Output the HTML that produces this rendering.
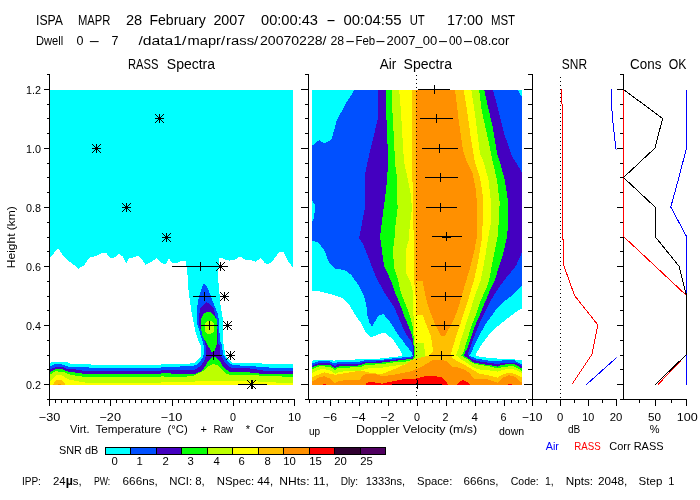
<!DOCTYPE html>
<html><head><meta charset="utf-8"><title>ISPA MAPR RASS</title>
<style>
html,body{margin:0;padding:0;background:#fff;width:700px;height:500px;overflow:hidden}
svg{display:block}
text{font-family:"Liberation Sans",sans-serif;}
</style></head><body>
<svg width="700" height="500" viewBox="0 0 700 500">
<rect x="0" y="0" width="700" height="500" fill="#fff"/>
<text x="36" y="25" font-size="14" textLength="27" lengthAdjust="spacingAndGlyphs">ISPA</text>
<text x="78" y="25" font-size="14" textLength="32.5" lengthAdjust="spacingAndGlyphs">MAPR</text>
<text x="126" y="25" font-size="14" textLength="16.2" lengthAdjust="spacingAndGlyphs">28</text>
<text x="149.4" y="25" font-size="14" textLength="56.4" lengthAdjust="spacingAndGlyphs">February</text>
<text x="213.4" y="25" font-size="14" textLength="31.9" lengthAdjust="spacingAndGlyphs">2007</text>
<text x="261" y="25" font-size="14" textLength="57" lengthAdjust="spacingAndGlyphs">00:00:43</text>
<text x="326.23" y="25" font-size="14" textLength="9.55" lengthAdjust="spacingAndGlyphs">-</text>
<text x="343.4" y="25" font-size="14" textLength="58.1" lengthAdjust="spacingAndGlyphs">00:04:55</text>
<text x="409.7" y="25" font-size="14" textLength="15.1" lengthAdjust="spacingAndGlyphs">UT</text>
<text x="447" y="25" font-size="14" textLength="36" lengthAdjust="spacingAndGlyphs">17:00</text>
<text x="490.9" y="25" font-size="14" textLength="24.1" lengthAdjust="spacingAndGlyphs">MST</text>
<text x="36" y="45" font-size="12.5" textLength="27.2" lengthAdjust="spacingAndGlyphs">Dwell</text>
<text x="80.1" y="45" font-size="12.5" text-anchor="middle">0</text>
<text x="88.4" y="45" font-size="12.5" textLength="12.01" lengthAdjust="spacingAndGlyphs">-</text>
<text x="115.0" y="45" font-size="12.5" text-anchor="middle">7</text>
<text x="138.4" y="45" font-size="12.5" textLength="48.1" lengthAdjust="spacingAndGlyphs">/data1/</text>
<text x="187.5" y="45" font-size="12.5" textLength="37.5" lengthAdjust="spacingAndGlyphs">mapr/</text>
<text x="226" y="45" font-size="12.5" textLength="32.2" lengthAdjust="spacingAndGlyphs">rass/</text>
<text x="260" y="45" font-size="12.5" textLength="66.5" lengthAdjust="spacingAndGlyphs">20070228/</text>
<text x="330.5" y="45" font-size="12.5" textLength="13.7" lengthAdjust="spacingAndGlyphs">28</text>
<text x="345.14" y="45" font-size="12.5" textLength="10.23" lengthAdjust="spacingAndGlyphs">-</text>
<text x="355.5" y="45" font-size="12.5" textLength="19.7" lengthAdjust="spacingAndGlyphs">Feb</text>
<text x="375.05" y="45" font-size="12.5" textLength="10.91" lengthAdjust="spacingAndGlyphs">-</text>
<text x="386.5" y="45" font-size="12.5" textLength="50.7" lengthAdjust="spacingAndGlyphs">2007_00</text>
<text x="437.55" y="45" font-size="12.5" textLength="10.91" lengthAdjust="spacingAndGlyphs">-</text>
<text x="449" y="45" font-size="12.5" textLength="13.2" lengthAdjust="spacingAndGlyphs">00</text>
<text x="462.55" y="45" font-size="12.5" textLength="10.91" lengthAdjust="spacingAndGlyphs">-</text>
<text x="473.4" y="45" font-size="12.5" textLength="35.9" lengthAdjust="spacingAndGlyphs">08.cor</text>
<text x="128" y="69" font-size="14" textLength="30.4" lengthAdjust="spacingAndGlyphs">RASS</text>
<text x="166.8" y="69" font-size="14" textLength="48.2" lengthAdjust="spacingAndGlyphs">Spectra</text>
<text x="379.8" y="69" font-size="14" textLength="16.5" lengthAdjust="spacingAndGlyphs">Air</text>
<text x="403.6" y="69" font-size="14" textLength="48.4" lengthAdjust="spacingAndGlyphs">Spectra</text>
<text x="561.8" y="69" font-size="14" textLength="25.2" lengthAdjust="spacingAndGlyphs">SNR</text>
<text x="630.1" y="69" font-size="14" textLength="31.3" lengthAdjust="spacingAndGlyphs">Cons</text>
<text x="668.8" y="69" font-size="14" textLength="17.7" lengthAdjust="spacingAndGlyphs">OK</text>
<rect x="49" y="74" width="1" height="326" fill="#000"/>
<rect x="47" y="74" width="2" height="1" fill="#000"/>
<rect x="44" y="89" width="5" height="1" fill="#000"/>
<rect x="47" y="104" width="2" height="1" fill="#000"/>
<rect x="47" y="118" width="2" height="1" fill="#000"/>
<rect x="47" y="133" width="2" height="1" fill="#000"/>
<rect x="44" y="148" width="5" height="1" fill="#000"/>
<rect x="47" y="163" width="2" height="1" fill="#000"/>
<rect x="47" y="177" width="2" height="1" fill="#000"/>
<rect x="47" y="192" width="2" height="1" fill="#000"/>
<rect x="44" y="207" width="5" height="1" fill="#000"/>
<rect x="47" y="222" width="2" height="1" fill="#000"/>
<rect x="47" y="237" width="2" height="1" fill="#000"/>
<rect x="47" y="251" width="2" height="1" fill="#000"/>
<rect x="44" y="266" width="5" height="1" fill="#000"/>
<rect x="47" y="281" width="2" height="1" fill="#000"/>
<rect x="47" y="296" width="2" height="1" fill="#000"/>
<rect x="47" y="310" width="2" height="1" fill="#000"/>
<rect x="44" y="325" width="5" height="1" fill="#000"/>
<rect x="47" y="340" width="2" height="1" fill="#000"/>
<rect x="47" y="355" width="2" height="1" fill="#000"/>
<rect x="47" y="369" width="2" height="1" fill="#000"/>
<rect x="44" y="384" width="5" height="1" fill="#000"/>
<rect x="47" y="399" width="2" height="1" fill="#000"/>
<rect x="308" y="74" width="1" height="326" fill="#000"/>
<rect x="305" y="74" width="3" height="1" fill="#000"/>
<rect x="301" y="89" width="7" height="1" fill="#000"/>
<rect x="305" y="104" width="3" height="1" fill="#000"/>
<rect x="305" y="118" width="3" height="1" fill="#000"/>
<rect x="305" y="133" width="3" height="1" fill="#000"/>
<rect x="301" y="148" width="7" height="1" fill="#000"/>
<rect x="305" y="163" width="3" height="1" fill="#000"/>
<rect x="305" y="177" width="3" height="1" fill="#000"/>
<rect x="305" y="192" width="3" height="1" fill="#000"/>
<rect x="301" y="207" width="7" height="1" fill="#000"/>
<rect x="305" y="222" width="3" height="1" fill="#000"/>
<rect x="305" y="237" width="3" height="1" fill="#000"/>
<rect x="305" y="251" width="3" height="1" fill="#000"/>
<rect x="301" y="266" width="7" height="1" fill="#000"/>
<rect x="305" y="281" width="3" height="1" fill="#000"/>
<rect x="305" y="296" width="3" height="1" fill="#000"/>
<rect x="305" y="310" width="3" height="1" fill="#000"/>
<rect x="301" y="325" width="7" height="1" fill="#000"/>
<rect x="305" y="340" width="3" height="1" fill="#000"/>
<rect x="305" y="355" width="3" height="1" fill="#000"/>
<rect x="305" y="369" width="3" height="1" fill="#000"/>
<rect x="301" y="384" width="7" height="1" fill="#000"/>
<rect x="305" y="399" width="3" height="1" fill="#000"/>
<rect x="532" y="74" width="1" height="326" fill="#000"/>
<rect x="528" y="74" width="4" height="1" fill="#000"/>
<rect x="524" y="89" width="8" height="1" fill="#000"/>
<rect x="528" y="104" width="4" height="1" fill="#000"/>
<rect x="528" y="118" width="4" height="1" fill="#000"/>
<rect x="528" y="133" width="4" height="1" fill="#000"/>
<rect x="524" y="148" width="8" height="1" fill="#000"/>
<rect x="528" y="163" width="4" height="1" fill="#000"/>
<rect x="528" y="177" width="4" height="1" fill="#000"/>
<rect x="528" y="192" width="4" height="1" fill="#000"/>
<rect x="524" y="207" width="8" height="1" fill="#000"/>
<rect x="528" y="222" width="4" height="1" fill="#000"/>
<rect x="528" y="237" width="4" height="1" fill="#000"/>
<rect x="528" y="251" width="4" height="1" fill="#000"/>
<rect x="524" y="266" width="8" height="1" fill="#000"/>
<rect x="528" y="281" width="4" height="1" fill="#000"/>
<rect x="528" y="296" width="4" height="1" fill="#000"/>
<rect x="528" y="310" width="4" height="1" fill="#000"/>
<rect x="524" y="325" width="8" height="1" fill="#000"/>
<rect x="528" y="340" width="4" height="1" fill="#000"/>
<rect x="528" y="355" width="4" height="1" fill="#000"/>
<rect x="528" y="369" width="4" height="1" fill="#000"/>
<rect x="524" y="384" width="8" height="1" fill="#000"/>
<rect x="528" y="399" width="4" height="1" fill="#000"/>
<rect x="623" y="74" width="1" height="326" fill="#000"/>
<rect x="620" y="74" width="3" height="1" fill="#000"/>
<rect x="617" y="89" width="6" height="1" fill="#000"/>
<rect x="620" y="104" width="3" height="1" fill="#000"/>
<rect x="620" y="118" width="3" height="1" fill="#000"/>
<rect x="620" y="133" width="3" height="1" fill="#000"/>
<rect x="617" y="148" width="6" height="1" fill="#000"/>
<rect x="620" y="163" width="3" height="1" fill="#000"/>
<rect x="620" y="177" width="3" height="1" fill="#000"/>
<rect x="620" y="192" width="3" height="1" fill="#000"/>
<rect x="617" y="207" width="6" height="1" fill="#000"/>
<rect x="620" y="222" width="3" height="1" fill="#000"/>
<rect x="620" y="237" width="3" height="1" fill="#000"/>
<rect x="620" y="251" width="3" height="1" fill="#000"/>
<rect x="617" y="266" width="6" height="1" fill="#000"/>
<rect x="620" y="281" width="3" height="1" fill="#000"/>
<rect x="620" y="296" width="3" height="1" fill="#000"/>
<rect x="620" y="310" width="3" height="1" fill="#000"/>
<rect x="617" y="325" width="6" height="1" fill="#000"/>
<rect x="620" y="340" width="3" height="1" fill="#000"/>
<rect x="620" y="355" width="3" height="1" fill="#000"/>
<rect x="620" y="369" width="3" height="1" fill="#000"/>
<rect x="617" y="384" width="6" height="1" fill="#000"/>
<rect x="620" y="399" width="3" height="1" fill="#000"/>
<rect x="49" y="399" width="246" height="1" fill="#000"/>
<rect x="49" y="400" width="1" height="6" fill="#000"/>
<rect x="55" y="400" width="1" height="3" fill="#000"/>
<rect x="61" y="400" width="1" height="3" fill="#000"/>
<rect x="67" y="400" width="1" height="3" fill="#000"/>
<rect x="74" y="400" width="1" height="3" fill="#000"/>
<rect x="80" y="400" width="1" height="3" fill="#000"/>
<rect x="86" y="400" width="1" height="3" fill="#000"/>
<rect x="92" y="400" width="1" height="3" fill="#000"/>
<rect x="98" y="400" width="1" height="3" fill="#000"/>
<rect x="104" y="400" width="1" height="3" fill="#000"/>
<rect x="110" y="400" width="1" height="6" fill="#000"/>
<rect x="116" y="400" width="1" height="3" fill="#000"/>
<rect x="122" y="400" width="1" height="3" fill="#000"/>
<rect x="129" y="400" width="1" height="3" fill="#000"/>
<rect x="135" y="400" width="1" height="3" fill="#000"/>
<rect x="141" y="400" width="1" height="3" fill="#000"/>
<rect x="147" y="400" width="1" height="3" fill="#000"/>
<rect x="153" y="400" width="1" height="3" fill="#000"/>
<rect x="159" y="400" width="1" height="3" fill="#000"/>
<rect x="165" y="400" width="1" height="3" fill="#000"/>
<rect x="172" y="400" width="1" height="6" fill="#000"/>
<rect x="178" y="400" width="1" height="3" fill="#000"/>
<rect x="184" y="400" width="1" height="3" fill="#000"/>
<rect x="190" y="400" width="1" height="3" fill="#000"/>
<rect x="196" y="400" width="1" height="3" fill="#000"/>
<rect x="202" y="400" width="1" height="3" fill="#000"/>
<rect x="208" y="400" width="1" height="3" fill="#000"/>
<rect x="214" y="400" width="1" height="3" fill="#000"/>
<rect x="220" y="400" width="1" height="3" fill="#000"/>
<rect x="227" y="400" width="1" height="3" fill="#000"/>
<rect x="233" y="400" width="1" height="6" fill="#000"/>
<rect x="239" y="400" width="1" height="3" fill="#000"/>
<rect x="245" y="400" width="1" height="3" fill="#000"/>
<rect x="251" y="400" width="1" height="3" fill="#000"/>
<rect x="257" y="400" width="1" height="3" fill="#000"/>
<rect x="263" y="400" width="1" height="3" fill="#000"/>
<rect x="270" y="400" width="1" height="3" fill="#000"/>
<rect x="276" y="400" width="1" height="3" fill="#000"/>
<rect x="282" y="400" width="1" height="3" fill="#000"/>
<rect x="288" y="400" width="1" height="3" fill="#000"/>
<rect x="294" y="400" width="1" height="6" fill="#000"/>
<rect x="308" y="399" width="218" height="1" fill="#000"/>
<rect x="309" y="400" width="1" height="3" fill="#000"/>
<rect x="316" y="400" width="1" height="3" fill="#000"/>
<rect x="323" y="400" width="1" height="3" fill="#000"/>
<rect x="330" y="400" width="1" height="6" fill="#000"/>
<rect x="338" y="400" width="1" height="3" fill="#000"/>
<rect x="345" y="400" width="1" height="3" fill="#000"/>
<rect x="352" y="400" width="1" height="3" fill="#000"/>
<rect x="359" y="400" width="1" height="6" fill="#000"/>
<rect x="367" y="400" width="1" height="3" fill="#000"/>
<rect x="374" y="400" width="1" height="3" fill="#000"/>
<rect x="381" y="400" width="1" height="3" fill="#000"/>
<rect x="388" y="400" width="1" height="6" fill="#000"/>
<rect x="396" y="400" width="1" height="3" fill="#000"/>
<rect x="403" y="400" width="1" height="3" fill="#000"/>
<rect x="410" y="400" width="1" height="3" fill="#000"/>
<rect x="417" y="400" width="1" height="6" fill="#000"/>
<rect x="424" y="400" width="1" height="3" fill="#000"/>
<rect x="432" y="400" width="1" height="3" fill="#000"/>
<rect x="439" y="400" width="1" height="3" fill="#000"/>
<rect x="446" y="400" width="1" height="6" fill="#000"/>
<rect x="453" y="400" width="1" height="3" fill="#000"/>
<rect x="461" y="400" width="1" height="3" fill="#000"/>
<rect x="468" y="400" width="1" height="3" fill="#000"/>
<rect x="475" y="400" width="1" height="6" fill="#000"/>
<rect x="482" y="400" width="1" height="3" fill="#000"/>
<rect x="489" y="400" width="1" height="3" fill="#000"/>
<rect x="497" y="400" width="1" height="3" fill="#000"/>
<rect x="504" y="400" width="1" height="6" fill="#000"/>
<rect x="511" y="400" width="1" height="3" fill="#000"/>
<rect x="518" y="400" width="1" height="3" fill="#000"/>
<rect x="526" y="400" width="1" height="3" fill="#000"/>
<rect x="532" y="399" width="85" height="1" fill="#000"/>
<rect x="532" y="400" width="1" height="6" fill="#000"/>
<rect x="546" y="400" width="1" height="3" fill="#000"/>
<rect x="560" y="400" width="1" height="6" fill="#000"/>
<rect x="574" y="400" width="1" height="3" fill="#000"/>
<rect x="588" y="400" width="1" height="6" fill="#000"/>
<rect x="602" y="400" width="1" height="3" fill="#000"/>
<rect x="616" y="400" width="1" height="6" fill="#000"/>
<rect x="623" y="399" width="64" height="1" fill="#000"/>
<rect x="639" y="400" width="1" height="3" fill="#000"/>
<rect x="655" y="400" width="1" height="6" fill="#000"/>
<rect x="671" y="400" width="1" height="3" fill="#000"/>
<rect x="686" y="400" width="1" height="6" fill="#000"/>
<text x="41" y="94" font-size="11" textLength="15" lengthAdjust="spacingAndGlyphs" text-anchor="end">1.2</text>
<text x="41" y="153" font-size="11" textLength="15" lengthAdjust="spacingAndGlyphs" text-anchor="end">1.0</text>
<text x="41" y="212" font-size="11" textLength="15" lengthAdjust="spacingAndGlyphs" text-anchor="end">0.8</text>
<text x="41" y="271" font-size="11" textLength="15" lengthAdjust="spacingAndGlyphs" text-anchor="end">0.6</text>
<text x="41" y="330" font-size="11" textLength="15" lengthAdjust="spacingAndGlyphs" text-anchor="end">0.4</text>
<text x="41" y="389" font-size="11" textLength="15" lengthAdjust="spacingAndGlyphs" text-anchor="end">0.2</text>
<text x="0" y="0" font-size="11" transform="translate(14.7,237.2) rotate(-90)" text-anchor="middle" textLength="62" lengthAdjust="spacingAndGlyphs">Height (km)</text>
<text x="49.5" y="421" font-size="11" textLength="21.5" lengthAdjust="spacingAndGlyphs" text-anchor="middle">−30</text>
<text x="110.2" y="421" font-size="11" textLength="21.5" lengthAdjust="spacingAndGlyphs" text-anchor="middle">−20</text>
<text x="171.5" y="421" font-size="11" textLength="21.5" lengthAdjust="spacingAndGlyphs" text-anchor="middle">−10</text>
<text x="233" y="421" font-size="11" textLength="6" lengthAdjust="spacingAndGlyphs" text-anchor="middle">0</text>
<text x="294.5" y="421" font-size="11" textLength="13" lengthAdjust="spacingAndGlyphs" text-anchor="middle">10</text>
<text x="330" y="421" font-size="11" textLength="14" lengthAdjust="spacingAndGlyphs" text-anchor="middle">−6</text>
<text x="358.6" y="421" font-size="11" textLength="14" lengthAdjust="spacingAndGlyphs" text-anchor="middle">−4</text>
<text x="387.6" y="421" font-size="11" textLength="14" lengthAdjust="spacingAndGlyphs" text-anchor="middle">−2</text>
<text x="417" y="421" font-size="11" textLength="6" lengthAdjust="spacingAndGlyphs" text-anchor="middle">0</text>
<text x="445.5" y="421" font-size="11" textLength="6" lengthAdjust="spacingAndGlyphs" text-anchor="middle">2</text>
<text x="474.8" y="421" font-size="11" textLength="6.4" lengthAdjust="spacingAndGlyphs" text-anchor="middle">4</text>
<text x="503.5" y="421" font-size="11" textLength="6" lengthAdjust="spacingAndGlyphs" text-anchor="middle">6</text>
<text x="532.2" y="421" font-size="11" textLength="20.4" lengthAdjust="spacingAndGlyphs" text-anchor="middle">−10</text>
<text x="560.2" y="421" font-size="11" textLength="6.3" lengthAdjust="spacingAndGlyphs" text-anchor="middle">0</text>
<text x="588.2" y="421" font-size="11" textLength="12" lengthAdjust="spacingAndGlyphs" text-anchor="middle">10</text>
<text x="616" y="421" font-size="11" textLength="12.6" lengthAdjust="spacingAndGlyphs" text-anchor="middle">20</text>
<text x="654.5" y="421" font-size="11" textLength="13" lengthAdjust="spacingAndGlyphs" text-anchor="middle">50</text>
<text x="687.2" y="421" font-size="11" textLength="21" lengthAdjust="spacingAndGlyphs" text-anchor="middle">100</text>
<text x="70.1" y="433" font-size="11" textLength="19.4" lengthAdjust="spacingAndGlyphs">Virt.</text>
<text x="95.5" y="433" font-size="11" textLength="65.7" lengthAdjust="spacingAndGlyphs">Temperature</text>
<text x="167.6" y="433" font-size="11" textLength="20.2" lengthAdjust="spacingAndGlyphs">(°C)</text>
<text x="203.7" y="433" font-size="11" text-anchor="middle">+</text>
<text x="213.6" y="433" font-size="11" textLength="19.6" lengthAdjust="spacingAndGlyphs">Raw</text>
<text x="248.0" y="433" font-size="11" text-anchor="middle">*</text>
<text x="255.6" y="433" font-size="11" textLength="18.6" lengthAdjust="spacingAndGlyphs">Cor</text>
<text x="356" y="433" font-size="11" textLength="121.2" lengthAdjust="spacingAndGlyphs">Doppler Velocity (m/s)</text>
<text x="567.9" y="433" font-size="11" textLength="12.3" lengthAdjust="spacingAndGlyphs">dB</text>
<text x="654.75" y="433" font-size="11" text-anchor="middle">%</text>
<text x="309" y="435" font-size="11" textLength="11.2" lengthAdjust="spacingAndGlyphs">up</text>
<text x="499" y="435" font-size="11" textLength="25.2" lengthAdjust="spacingAndGlyphs">down</text>
<text x="545.7" y="450" font-size="11" textLength="13.2" lengthAdjust="spacingAndGlyphs" fill="#0000FF">Air</text>
<text x="574.3" y="450" font-size="11" textLength="26.5" lengthAdjust="spacingAndGlyphs" fill="#FF0000">RASS</text>
<text x="609.3" y="450" font-size="11" textLength="54.3" lengthAdjust="spacingAndGlyphs">Corr RASS</text>
<text x="59" y="454" font-size="11" textLength="39.2" lengthAdjust="spacingAndGlyphs">SNR dB</text>
<rect x="105" y="447" width="281" height="8" fill="#000"/>
<rect x="106" y="448" width="24" height="6" fill="#00FFFF"/>
<text x="117.8" y="465" font-size="11" textLength="6.3" lengthAdjust="spacingAndGlyphs" text-anchor="end">0</text>
<rect x="131" y="448" width="25" height="6" fill="#0050FF"/>
<text x="142.8" y="465" font-size="11" textLength="6.3" lengthAdjust="spacingAndGlyphs" text-anchor="end">1</text>
<rect x="157" y="448" width="24" height="6" fill="#4400C0"/>
<text x="168.8" y="465" font-size="11" textLength="6.3" lengthAdjust="spacingAndGlyphs" text-anchor="end">2</text>
<rect x="182" y="448" width="25" height="6" fill="#08FF08"/>
<text x="193.8" y="465" font-size="11" textLength="6.3" lengthAdjust="spacingAndGlyphs" text-anchor="end">3</text>
<rect x="208" y="448" width="24" height="6" fill="#BCFF00"/>
<text x="219.8" y="465" font-size="11" textLength="6.3" lengthAdjust="spacingAndGlyphs" text-anchor="end">4</text>
<rect x="233" y="448" width="25" height="6" fill="#FFFF00"/>
<text x="244.8" y="465" font-size="11" textLength="6.3" lengthAdjust="spacingAndGlyphs" text-anchor="end">6</text>
<rect x="259" y="448" width="24" height="6" fill="#FFC000"/>
<text x="270.8" y="465" font-size="11" textLength="6.3" lengthAdjust="spacingAndGlyphs" text-anchor="end">8</text>
<rect x="284" y="448" width="25" height="6" fill="#FF9000"/>
<text x="295.8" y="465" font-size="11" textLength="12.6" lengthAdjust="spacingAndGlyphs" text-anchor="end">10</text>
<rect x="310" y="448" width="24" height="6" fill="#FF0000"/>
<text x="321.8" y="465" font-size="11" textLength="12.6" lengthAdjust="spacingAndGlyphs" text-anchor="end">15</text>
<rect x="335" y="448" width="25" height="6" fill="#300030"/>
<text x="346.8" y="465" font-size="11" textLength="12.6" lengthAdjust="spacingAndGlyphs" text-anchor="end">20</text>
<rect x="361" y="448" width="24" height="6" fill="#500060"/>
<text x="372.8" y="465" font-size="11" textLength="12.6" lengthAdjust="spacingAndGlyphs" text-anchor="end">25</text>
<text x="53" y="485" font-size="11" textLength="28.7" lengthAdjust="spacingAndGlyphs">24<tspan font-weight="bold" font-size="12">µ</tspan>s,</text>
<text x="21.9" y="485" font-size="11" textLength="19.0" lengthAdjust="spacingAndGlyphs">IPP:</text>
<text x="93.9" y="485" font-size="11" textLength="16.3" lengthAdjust="spacingAndGlyphs">PW:</text>
<text x="122.6" y="485" font-size="11" textLength="35.2" lengthAdjust="spacingAndGlyphs">666ns,</text>
<text x="169.3" y="485" font-size="11" textLength="35.5" lengthAdjust="spacingAndGlyphs">NCI: 8,</text>
<text x="216.8" y="485" font-size="11" textLength="56.3" lengthAdjust="spacingAndGlyphs">NSpec: 44,</text>
<text x="279.3" y="485" font-size="11" textLength="49.5" lengthAdjust="spacingAndGlyphs">NHts: 11,</text>
<text x="340.7" y="485" font-size="11" textLength="17.4" lengthAdjust="spacingAndGlyphs">Dly:</text>
<text x="365.7" y="485" font-size="11" textLength="39.5" lengthAdjust="spacingAndGlyphs">1333ns,</text>
<text x="417.1" y="485" font-size="11" textLength="35.2" lengthAdjust="spacingAndGlyphs">Space:</text>
<text x="463.6" y="485" font-size="11" textLength="34.9" lengthAdjust="spacingAndGlyphs">666ns,</text>
<text x="510.7" y="485" font-size="11" textLength="28.1" lengthAdjust="spacingAndGlyphs">Code:</text>
<text x="545" y="485" font-size="11" textLength="8.8" lengthAdjust="spacingAndGlyphs">1,</text>
<text x="565.7" y="485" font-size="11" textLength="27.4" lengthAdjust="spacingAndGlyphs">Npts:</text>
<text x="597.9" y="485" font-size="11" textLength="29.4" lengthAdjust="spacingAndGlyphs">2048,</text>
<text x="638.6" y="485" font-size="11" textLength="23.7" lengthAdjust="spacingAndGlyphs">Step</text>
<text x="671.2" y="485" font-size="11" text-anchor="middle">1</text>
<g shape-rendering="crispEdges">
<polygon points="50.0,90.0 293.0,90.0 293.0,268.0 288.5,261.6 283.8,252.3 279.2,252.3 272.7,260.6 268.1,264.7 264.3,262.5 260.6,257.5 256.0,261.9 250.4,260.0 244.9,259.7 240.2,256.4 234.6,259.7 229.0,260.6 226.3,260.0 221.6,257.5 218.9,257.9 218.2,279.0 220.6,306.0 223.0,320.0 223.0,344.0 224.0,345.0 225.0,354.0 228.0,359.0 232.0,362.5 233.7,362.7 233.7,362.7 256.6,363.3 272.6,363.9 279.4,364.2 293.0,364.2 293.0,385.0 50.0,385.0 50.0,362.7 54.1,361.9 66.7,362.1 70.7,363.9 90.7,364.4 91.9,365.0 161.0,365.0 161.0,364.2 180.0,364.0 180.0,364.0 190.0,363.5 195.0,362.5 200.5,357.0 201.5,353.0 200.6,345.6 198.0,340.0 195.5,332.0 193.5,322.0 192.0,315.0 190.0,302.0 188.5,290.0 187.5,275.0 186.0,261.2 185.8,261.2 180.8,261.2 176.1,263.4 172.1,263.4 169.1,258.2 165.3,264.7 162.0,263.0 156.8,258.2 150.8,262.0 145.3,264.7 141.6,258.8 137.9,256.0 133.2,257.5 129.5,257.5 126.3,263.0 123.0,256.9 118.9,253.2 114.1,257.9 110.4,257.9 106.3,253.2 101.6,253.2 94.2,256.6 89.6,257.5 84.0,265.3 78.4,268.6 71.9,263.4 66.4,259.3 62.6,254.7 58.0,248.0 50.0,257.9" fill="#00FFFF"/>
<polygon points="205.5,285.0 207.8,288.0 213.4,303.2 217.4,312.8 219.0,320.0 219.3,327.2 219.8,340.0 222.0,345.0 223.0,354.0 227.0,360.0 230.0,363.5 233.0,365.0 233.0,365.0 248.6,366.1 260.0,366.7 272.6,367.9 293.0,367.9 293.0,385.0 50.0,385.0 50.0,366.1 55.3,364.2 62.1,364.4 66.1,366.1 70.7,367.3 125.0,367.9 161.0,367.9 161.0,367.0 180.0,366.5 180.0,366.5 192.0,366.0 198.0,364.0 203.0,357.5 204.0,353.0 203.8,345.6 199.0,329.6 197.4,325.0 196.8,320.0 196.6,312.8 197.5,305.0 199.0,296.8 201.0,290.0 203.5,284.0" fill="#0050FF"/>
<polygon points="209.5,303.5 213.4,308.0 216.9,320.8 217.9,333.6 217.9,344.0 220.0,345.0 220.5,355.0 224.0,361.0 228.0,366.0 232.0,368.0 250.0,368.5 264.6,370.7 293.0,371.3 293.0,385.0 50.0,385.0 50.0,369.0 55.3,367.3 63.9,367.3 66.7,369.0 78.1,369.6 86.1,371.3 161.0,371.0 161.0,370.1 180.0,370.5 180.0,370.5 195.0,369.5 201.0,366.0 205.0,359.0 206.5,354.0 205.5,345.0 202.2,332.8 199.8,328.0 198.8,320.8 199.0,315.0 200.6,308.0 203.0,305.0 206.2,302.4" fill="#4400C0"/>
<polygon points="207.0,311.5 210.5,312.0 213.4,315.0 216.9,319.5 217.2,325.6 216.8,336.8 216.5,345.0 214.5,351.0 213.0,352.6 211.5,351.5 207.5,345.0 202.5,336.0 200.7,327.2 200.7,320.0 201.9,317.0 203.0,314.5" fill="#08FF08"/>
<polygon points="214.0,356.5 217.0,358.0 221.0,363.0 224.0,368.0 229.0,371.0 229.1,371.9 248.6,372.4 264.6,374.1 293.0,374.1 293.0,385.0 50.0,385.0 50.0,372.4 55.3,369.0 63.9,369.6 66.7,371.3 78.1,373.0 86.1,374.1 161.0,373.9 161.0,373.0 180.0,374.0 180.0,374.0 196.0,373.5 202.0,371.0 206.0,365.0 209.0,360.0 213.0,356.5" fill="#08FF08"/>
<polygon points="207.5,321.0 211.0,321.0 213.8,323.5 214.3,328.0 213.5,332.0 210.5,334.0 207.0,334.0 205.0,332.0 204.6,327.0 205.5,323.0" fill="#BCFF00"/>
<polygon points="50.0,374.7 55.3,371.3 63.9,371.9 70.1,374.7 78.1,375.9 86.1,377.0 161.0,377.0 161.0,376.4 180.0,377.0 193.0,376.0 203.0,371.0 209.0,366.0 213.0,364.0 217.0,365.0 222.0,370.0 227.0,374.0 229.1,374.7 240.0,375.0 254.3,375.3 293.0,377.0 293.0,385.0 50.0,385.0" fill="#BCFF00"/>
<polygon points="50.0,381.6 53.0,378.0 56.4,375.3 62.1,375.3 67.9,379.3 79.3,381.6 86.1,382.7 109.0,383.3 161.0,383.3 161.0,381.8 180.0,382.0 195.0,381.5 205.0,381.0 240.0,380.5 250.0,381.0 268.0,382.1 292.8,383.3 293.0,383.3 293.0,385.0 50.0,385.0" fill="#FFFF00"/>
<polygon points="53.0,385.0 54.5,382.5 56.4,380.4 62.1,380.4 64.0,382.5 65.6,385.0" fill="#FFC000"/>
<polygon points="57.5,385.0 58.5,384.0 60.5,384.0 61.0,385.0" fill="#FF9000"/>
</g>
<path d="M155,118h9v1h-9zM159,114h1v9h-1zM158,117h3v3h-3zM157,116h1v1h-1zM157,120h1v1h-1zM161,116h1v1h-1zM161,120h1v1h-1zM156,115h1v1h-1zM156,121h1v1h-1zM162,115h1v1h-1zM162,121h1v1h-1zM155,114h1v1h-1zM155,122h1v1h-1zM163,114h1v1h-1zM163,122h1v1h-1z" fill="#000" shape-rendering="crispEdges"/>
<path d="M92,148h9v1h-9zM96,144h1v9h-1zM95,147h3v3h-3zM94,146h1v1h-1zM94,150h1v1h-1zM98,146h1v1h-1zM98,150h1v1h-1zM93,145h1v1h-1zM93,151h1v1h-1zM99,145h1v1h-1zM99,151h1v1h-1zM92,144h1v1h-1zM92,152h1v1h-1zM100,144h1v1h-1zM100,152h1v1h-1z" fill="#000" shape-rendering="crispEdges"/>
<path d="M122,207h9v1h-9zM126,203h1v9h-1zM125,206h3v3h-3zM124,205h1v1h-1zM124,209h1v1h-1zM128,205h1v1h-1zM128,209h1v1h-1zM123,204h1v1h-1zM123,210h1v1h-1zM129,204h1v1h-1zM129,210h1v1h-1zM122,203h1v1h-1zM122,211h1v1h-1zM130,203h1v1h-1zM130,211h1v1h-1z" fill="#000" shape-rendering="crispEdges"/>
<path d="M162,237h9v1h-9zM166,233h1v9h-1zM165,236h3v3h-3zM164,235h1v1h-1zM164,239h1v1h-1zM168,235h1v1h-1zM168,239h1v1h-1zM163,234h1v1h-1zM163,240h1v1h-1zM169,234h1v1h-1zM169,240h1v1h-1zM162,233h1v1h-1zM162,241h1v1h-1zM170,233h1v1h-1zM170,241h1v1h-1z" fill="#000" shape-rendering="crispEdges"/>
<path d="M216,266h9v1h-9zM220,262h1v9h-1zM219,265h3v3h-3zM218,264h1v1h-1zM218,268h1v1h-1zM222,264h1v1h-1zM222,268h1v1h-1zM217,263h1v1h-1zM217,269h1v1h-1zM223,263h1v1h-1zM223,269h1v1h-1zM216,262h1v1h-1zM216,270h1v1h-1zM224,262h1v1h-1zM224,270h1v1h-1z" fill="#000" shape-rendering="crispEdges"/>
<path d="M220,296h9v1h-9zM224,292h1v9h-1zM223,295h3v3h-3zM222,294h1v1h-1zM222,298h1v1h-1zM226,294h1v1h-1zM226,298h1v1h-1zM221,293h1v1h-1zM221,299h1v1h-1zM227,293h1v1h-1zM227,299h1v1h-1zM220,292h1v1h-1zM220,300h1v1h-1zM228,292h1v1h-1zM228,300h1v1h-1z" fill="#000" shape-rendering="crispEdges"/>
<path d="M223,325h9v1h-9zM227,321h1v9h-1zM226,324h3v3h-3zM225,323h1v1h-1zM225,327h1v1h-1zM229,323h1v1h-1zM229,327h1v1h-1zM224,322h1v1h-1zM224,328h1v1h-1zM230,322h1v1h-1zM230,328h1v1h-1zM223,321h1v1h-1zM223,329h1v1h-1zM231,321h1v1h-1zM231,329h1v1h-1z" fill="#000" shape-rendering="crispEdges"/>
<path d="M226,355h9v1h-9zM230,351h1v9h-1zM229,354h3v3h-3zM228,353h1v1h-1zM228,357h1v1h-1zM232,353h1v1h-1zM232,357h1v1h-1zM227,352h1v1h-1zM227,358h1v1h-1zM233,352h1v1h-1zM233,358h1v1h-1zM226,351h1v1h-1zM226,359h1v1h-1zM234,351h1v1h-1zM234,359h1v1h-1z" fill="#000" shape-rendering="crispEdges"/>
<path d="M247,384h9v1h-9zM251,380h1v9h-1zM250,383h3v3h-3zM249,382h1v1h-1zM249,386h1v1h-1zM253,382h1v1h-1zM253,386h1v1h-1zM248,381h1v1h-1zM248,387h1v1h-1zM254,381h1v1h-1zM254,387h1v1h-1zM247,380h1v1h-1zM247,388h1v1h-1zM255,380h1v1h-1zM255,388h1v1h-1z" fill="#000" shape-rendering="crispEdges"/>
<rect x="172" y="266" width="56" height="1" fill="#000"/>
<rect x="200" y="262" width="1" height="9" fill="#000"/>
<rect x="193" y="296" width="23" height="1" fill="#000"/>
<rect x="204" y="292" width="1" height="9" fill="#000"/>
<rect x="201" y="325" width="17" height="1" fill="#000"/>
<rect x="209" y="321" width="1" height="9" fill="#000"/>
<rect x="206" y="355" width="16" height="1" fill="#000"/>
<rect x="213" y="351" width="1" height="9" fill="#000"/>
<rect x="238" y="384" width="29" height="1" fill="#000"/>
<rect x="252" y="380" width="1" height="9" fill="#000"/>
<g shape-rendering="crispEdges">
<rect x="312" y="90" width="210" height="295" fill="#00FFFF"/>
<polygon points="312.0,291.0 317.6,291.0 324.0,292.6 333.6,295.0 343.2,298.2 349.6,305.4 355.2,315.0 360.8,322.8 365.6,332.4 371.2,337.2 381.6,333.2 385.6,333.4 392.6,339.0 397.5,346.0 401.0,351.6 402.3,356.0 393.0,357.0 382.0,358.4 375.0,358.9 365.7,358.9 359.2,359.4 341.6,359.9 336.5,359.9 335.0,360.8 332.3,360.3 329.5,359.9 315.6,359.9 312.0,360.8" fill="#fff"/>
<polygon points="522.0,308.4 516.4,311.6 508.0,318.0 496.0,327.6 488.0,336.0 480.8,345.6 476.6,352.8 476.0,355.5 481.1,357.0 492.9,358.3 501.3,358.7 514.7,359.1 516.4,360.0 522.0,360.0" fill="#fff"/>
<polygon points="354.4,90.0 346.4,102.6 336.8,120.2 332.0,137.8 330.4,140.2 324.8,143.4 319.2,140.2 312.0,145.8 312.0,240.6 317.6,242.2 324.0,249.4 328.8,262.2 335.2,268.6 344.8,270.2 351.2,275.0 359.2,286.2 364.0,295.8 366.4,305.4 367.2,315.0 369.6,322.8 372.0,326.8 375.2,321.2 378.4,315.6 383.2,314.0 389.8,321.5 398.2,334.8 402.2,340.0 406.8,346.4 411.4,352.0 412.8,355.2 412.3,356.3 402.2,357.5 393.0,358.4 382.0,359.8 370.0,359.8 365.7,360.3 362.0,360.8 360.1,361.7 341.6,361.7 337.0,362.2 335.0,363.6 332.3,362.6 329.5,361.2 319.3,361.2 315.6,362.2 312.0,363.6 312.0,385.0 522.0,385.0 522.0,364.2 518.1,362.5 514.7,360.4 503.0,360.4 497.9,361.2 487.0,360.4 476.9,358.7 471.0,356.6 469.5,355.5 471.2,352.8 474.8,344.4 479.6,334.8 485.6,324.0 493.0,314.0 498.0,307.0 503.6,301.6 508.4,298.4 514.8,292.8 522.0,285.6 522.0,97.0 517.7,90.0" fill="#0050FF"/>
<polygon points="312.0,200.5 314.5,204.0 315.5,207.5 314.5,213.0 313.5,219.0 312.0,221.5" fill="#00FFFF"/>
<polygon points="378.1,90.0 378.1,117.0 375.2,129.8 371.2,145.8 367.5,162.0 364.8,176.0 364.8,208.0 360.0,233.6 359.2,238.0 363.2,244.6 369.6,260.6 375.2,275.0 382.8,290.0 388.4,298.4 394.0,306.8 398.2,316.6 402.4,326.4 407.3,336.2 410.5,340.0 412.8,345.5 413.4,355.5 412.3,357.8 402.2,358.9 393.0,359.8 382.0,360.7 375.0,361.7 365.7,361.7 362.0,362.6 360.1,363.6 341.6,364.0 337.0,364.5 335.0,365.9 332.3,364.5 329.5,363.1 319.3,363.1 315.6,364.0 312.0,365.9 312.0,385.0 522.0,385.0 522.0,366.3 518.1,364.2 514.7,362.5 501.3,362.9 497.9,364.2 491.2,362.9 482.8,362.1 474.4,360.0 470.2,357.9 467.6,354.0 470.6,346.8 474.8,334.8 480.0,322.0 486.0,310.0 491.0,300.0 496.0,292.0 500.0,286.0 504.4,280.0 516.0,265.9 522.0,252.1 522.0,172.9 517.7,165.0 514.3,160.0 510.9,153.6 504.0,133.0 496.3,102.0 492.9,90.0" fill="#4400C0"/>
<polygon points="386.1,90.0 386.4,117.0 387.7,149.0 388.0,162.0 387.2,179.2 384.8,200.0 382.4,217.6 380.0,237.0 381.6,247.8 384.0,265.4 391.2,281.4 394.0,290.0 397.5,298.4 401.0,306.8 404.5,316.6 408.7,326.4 411.9,334.8 412.8,340.0 413.6,346.0 414.2,355.6 412.3,359.0 402.2,359.8 393.0,361.2 382.0,362.5 375.0,362.6 365.7,363.1 360.1,365.4 341.6,366.2 337.0,366.8 335.0,368.2 332.3,366.4 329.5,365.0 319.3,365.0 315.6,365.9 312.0,367.7 312.0,385.0 522.0,385.0 522.0,368.8 519.8,367.1 514.7,364.2 502.1,364.6 497.9,366.7 491.2,365.4 482.8,364.2 480.0,363.7 474.4,362.9 468.8,359.0 464.3,355.6 465.0,352.0 467.0,349.2 470.6,338.4 474.8,326.4 480.6,313.0 485.5,301.0 489.2,292.0 492.4,284.8 494.8,280.0 503.1,253.9 507.4,235.0 508.3,202.9 504.9,180.6 500.0,162.0 497.1,153.6 492.9,127.9 486.9,102.0 484.3,90.0" fill="#08FF08"/>
<polygon points="392.0,90.0 392.0,104.2 393.6,133.0 395.2,165.0 396.8,176.0 397.6,208.0 395.2,227.2 394.4,240.0 392.8,251.0 394.4,268.6 398.0,280.0 400.3,290.0 403.1,298.4 406.6,306.8 410.1,316.6 412.5,326.4 413.3,334.8 414.2,340.0 414.5,346.0 415.0,357.0 412.3,360.0 404.0,362.0 393.0,362.5 382.0,364.1 375.0,364.5 365.7,365.0 360.1,367.3 341.6,367.7 337.9,368.2 335.0,369.9 329.5,366.8 319.3,366.2 315.6,367.7 312.0,369.6 312.0,385.0 522.0,385.0 522.0,370.9 518.1,368.4 513.1,366.3 503.8,366.7 497.9,368.4 491.2,366.7 482.8,365.4 480.0,364.8 474.4,364.0 471.6,362.3 466.0,358.4 461.0,355.6 462.8,354.0 464.0,350.4 467.6,338.4 471.8,325.2 476.8,312.5 481.0,300.0 486.4,288.0 489.2,280.0 493.7,255.6 498.0,235.0 499.7,202.9 497.1,180.6 493.0,163.0 488.6,141.6 481.7,110.7 479.1,90.0" fill="#BCFF00"/>
<polygon points="399.2,90.0 400.8,109.0 403.2,149.0 404.0,162.0 407.2,176.0 410.4,192.0 412.0,208.0 409.6,227.2 408.8,240.0 405.6,251.0 405.6,271.8 410.4,281.4 412.5,290.0 412.9,304.0 413.6,318.0 414.3,332.0 415.0,342.8 423.4,342.8 424.6,350.0 424.6,357.0 417.8,359.8 412.3,361.5 404.0,364.5 397.6,365.2 382.0,367.6 372.0,367.8 369.4,368.2 363.9,369.6 360.1,371.0 343.4,371.5 339.7,371.9 335.0,373.8 330.4,370.5 323.9,369.0 319.3,369.6 312.0,372.9 312.0,385.0 522.0,385.0 522.0,373.4 518.1,370.9 513.1,369.2 503.0,369.6 497.9,371.7 487.0,370.1 480.0,369.6 474.4,367.9 471.6,366.2 466.0,362.3 460.4,359.0 455.9,355.0 456.8,353.0 458.0,350.4 461.0,339.6 465.2,326.4 469.4,313.2 473.6,300.0 477.0,290.0 480.8,280.0 485.1,257.3 488.6,235.0 491.5,220.0 491.1,202.9 488.6,180.6 484.0,163.0 480.0,153.6 475.7,119.3 471.4,90.0" fill="#FFFF00"/>
<polygon points="412.0,90.0 412.0,162.0 413.0,200.0 413.6,235.0 414.0,280.0 416.0,300.0 416.0,314.9 422.8,314.9 424.6,320.7 427.3,327.0 430.9,336.0 433.2,351.0 428.6,355.6 421.2,357.5 412.0,359.8 406.4,363.7 395.0,368.9 381.6,374.0 372.0,373.2 362.4,370.8 354.4,371.6 335.2,374.8 324.0,372.4 312.0,377.2 312.0,385.0 522.0,385.0 522.0,377.6 518.1,375.5 513.1,373.4 507.2,373.0 501.3,375.1 497.9,377.6 487.0,375.1 478.9,373.5 474.4,370.7 468.8,367.4 463.2,364.0 457.6,361.2 452.0,357.8 450.8,354.0 452.6,348.0 456.2,336.0 460.4,324.0 464.0,312.0 468.2,300.0 471.0,290.0 474.0,280.0 478.3,260.7 481.7,240.0 483.4,211.4 482.6,194.3 480.0,177.1 475.0,163.0 470.6,136.4 467.1,110.7 463.7,90.0" fill="#FFC000"/>
<polygon points="415.7,90.0 415.7,165.0 416.2,200.0 416.0,235.0 415.7,281.3 422.6,281.3 426.4,300.0 430.0,311.7 434.5,322.5 438.1,330.6 440.8,335.6 443.1,336.0 445.3,335.6 449.8,327.0 453.4,320.7 457.0,311.7 460.6,300.0 462.9,291.6 469.7,269.3 474.0,252.1 477.4,235.0 477.4,208.0 475.7,189.1 472.3,172.0 466.0,160.0 462.9,150.1 458.6,119.3 455.1,90.0" fill="#FF9000"/>
<polygon points="312.0,381.2 313.7,381.2 317.4,378.0 323.9,376.1 329.5,378.4 335.0,383.1 338.8,381.2 345.3,380.1 359.2,380.1 363.9,374.7 367.6,373.8 375.0,374.0 382.0,376.3 392.0,375.0 406.8,372.2 412.2,371.0 416.0,369.1 419.8,367.7 424.2,365.3 428.0,362.9 432.0,360.5 436.0,359.8 442.4,359.8 447.0,361.6 452.0,366.8 457.6,367.4 463.2,369.0 467.1,371.3 470.5,374.1 473.3,378.0 474.4,378.5 487.0,379.3 497.9,382.7 503.0,377.6 508.9,375.1 514.7,376.8 519.8,381.0 522.0,382.7 522.0,385.0 312.0,385.0" fill="#FF9000"/>
<polygon points="365.7,385.0 366.6,383.0 370.4,382.0 375.0,382.5 382.0,383.7 392.0,381.4 406.8,378.6 416.0,378.6 425.2,376.3 430.0,375.9 434.1,376.3 441.4,376.8 445.1,380.5 448.3,385.0" fill="#FF0000"/>
<polygon points="456.2,385.0 459.8,381.4 463.5,380.0 467.2,381.9 470.9,385.0" fill="#FF0000"/>
<polygon points="323.0,385.0 323.5,384.0 326.0,384.0 326.5,385.0" fill="#FF0000"/>
<polygon points="507.2,385.0 508.0,384.0 511.8,384.0 512.0,385.0" fill="#FF0000"/>
</g>
<rect x="416" y="75" width="1" height="1" fill="#000"/>
<rect x="416" y="79" width="1" height="1" fill="#000"/>
<rect x="416" y="83" width="1" height="1" fill="#000"/>
<rect x="416" y="87" width="1" height="1" fill="#000"/>
<rect x="416" y="91" width="1" height="1" fill="#000"/>
<rect x="416" y="95" width="1" height="1" fill="#000"/>
<rect x="416" y="99" width="1" height="1" fill="#000"/>
<rect x="416" y="103" width="1" height="1" fill="#000"/>
<rect x="416" y="107" width="1" height="1" fill="#000"/>
<rect x="416" y="111" width="1" height="1" fill="#000"/>
<rect x="416" y="115" width="1" height="1" fill="#000"/>
<rect x="416" y="119" width="1" height="1" fill="#000"/>
<rect x="416" y="123" width="1" height="1" fill="#000"/>
<rect x="416" y="127" width="1" height="1" fill="#000"/>
<rect x="416" y="131" width="1" height="1" fill="#000"/>
<rect x="416" y="135" width="1" height="1" fill="#000"/>
<rect x="416" y="139" width="1" height="1" fill="#000"/>
<rect x="416" y="143" width="1" height="1" fill="#000"/>
<rect x="416" y="147" width="1" height="1" fill="#000"/>
<rect x="416" y="151" width="1" height="1" fill="#000"/>
<rect x="416" y="155" width="1" height="1" fill="#000"/>
<rect x="416" y="159" width="1" height="1" fill="#000"/>
<rect x="416" y="163" width="1" height="1" fill="#000"/>
<rect x="416" y="167" width="1" height="1" fill="#000"/>
<rect x="416" y="171" width="1" height="1" fill="#000"/>
<rect x="416" y="175" width="1" height="1" fill="#000"/>
<rect x="416" y="179" width="1" height="1" fill="#000"/>
<rect x="416" y="183" width="1" height="1" fill="#000"/>
<rect x="416" y="187" width="1" height="1" fill="#000"/>
<rect x="416" y="191" width="1" height="1" fill="#000"/>
<rect x="416" y="195" width="1" height="1" fill="#000"/>
<rect x="416" y="199" width="1" height="1" fill="#000"/>
<rect x="416" y="203" width="1" height="1" fill="#000"/>
<rect x="416" y="207" width="1" height="1" fill="#000"/>
<rect x="416" y="211" width="1" height="1" fill="#000"/>
<rect x="416" y="215" width="1" height="1" fill="#000"/>
<rect x="416" y="219" width="1" height="1" fill="#000"/>
<rect x="416" y="223" width="1" height="1" fill="#000"/>
<rect x="416" y="227" width="1" height="1" fill="#000"/>
<rect x="416" y="231" width="1" height="1" fill="#000"/>
<rect x="416" y="235" width="1" height="1" fill="#000"/>
<rect x="416" y="239" width="1" height="1" fill="#000"/>
<rect x="416" y="243" width="1" height="1" fill="#000"/>
<rect x="416" y="247" width="1" height="1" fill="#000"/>
<rect x="416" y="251" width="1" height="1" fill="#000"/>
<rect x="416" y="255" width="1" height="1" fill="#000"/>
<rect x="416" y="259" width="1" height="1" fill="#000"/>
<rect x="416" y="263" width="1" height="1" fill="#000"/>
<rect x="416" y="267" width="1" height="1" fill="#000"/>
<rect x="416" y="271" width="1" height="1" fill="#000"/>
<rect x="416" y="275" width="1" height="1" fill="#000"/>
<rect x="416" y="279" width="1" height="1" fill="#000"/>
<rect x="416" y="283" width="1" height="1" fill="#000"/>
<rect x="416" y="287" width="1" height="1" fill="#000"/>
<rect x="416" y="291" width="1" height="1" fill="#000"/>
<rect x="416" y="295" width="1" height="1" fill="#000"/>
<rect x="416" y="299" width="1" height="1" fill="#000"/>
<rect x="416" y="303" width="1" height="1" fill="#000"/>
<rect x="416" y="307" width="1" height="1" fill="#000"/>
<rect x="416" y="311" width="1" height="1" fill="#000"/>
<rect x="416" y="315" width="1" height="1" fill="#000"/>
<rect x="416" y="319" width="1" height="1" fill="#000"/>
<rect x="416" y="323" width="1" height="1" fill="#000"/>
<rect x="416" y="327" width="1" height="1" fill="#000"/>
<rect x="416" y="331" width="1" height="1" fill="#000"/>
<rect x="416" y="335" width="1" height="1" fill="#000"/>
<rect x="416" y="339" width="1" height="1" fill="#000"/>
<rect x="416" y="343" width="1" height="1" fill="#000"/>
<rect x="416" y="347" width="1" height="1" fill="#000"/>
<rect x="416" y="351" width="1" height="1" fill="#000"/>
<rect x="416" y="355" width="1" height="1" fill="#000"/>
<rect x="416" y="359" width="1" height="1" fill="#000"/>
<rect x="416" y="363" width="1" height="1" fill="#000"/>
<rect x="416" y="367" width="1" height="1" fill="#000"/>
<rect x="416" y="371" width="1" height="1" fill="#000"/>
<rect x="416" y="375" width="1" height="1" fill="#000"/>
<rect x="416" y="379" width="1" height="1" fill="#000"/>
<rect x="416" y="383" width="1" height="1" fill="#000"/>
<rect x="416" y="387" width="1" height="1" fill="#000"/>
<rect x="416" y="391" width="1" height="1" fill="#000"/>
<rect x="416" y="395" width="1" height="1" fill="#000"/>
<rect x="418" y="89" width="32" height="1" fill="#000"/>
<rect x="434" y="85" width="1" height="9" fill="#000"/>
<rect x="420" y="118" width="33" height="1" fill="#000"/>
<rect x="436" y="114" width="1" height="9" fill="#000"/>
<rect x="422" y="148" width="36" height="1" fill="#000"/>
<rect x="439" y="144" width="1" height="9" fill="#000"/>
<rect x="425" y="177" width="33" height="1" fill="#000"/>
<rect x="440" y="173" width="1" height="9" fill="#000"/>
<rect x="426" y="207" width="31" height="1" fill="#000"/>
<rect x="440" y="203" width="1" height="9" fill="#000"/>
<rect x="432" y="236" width="30" height="1" fill="#000"/>
<rect x="446" y="232" width="1" height="9" fill="#000"/>
<rect x="431" y="266" width="30" height="1" fill="#000"/>
<rect x="445" y="262" width="1" height="9" fill="#000"/>
<rect x="431" y="296" width="31" height="1" fill="#000"/>
<rect x="445" y="292" width="1" height="9" fill="#000"/>
<rect x="431" y="325" width="28" height="1" fill="#000"/>
<rect x="444" y="321" width="1" height="9" fill="#000"/>
<rect x="429" y="355" width="25" height="1" fill="#000"/>
<rect x="441" y="351" width="1" height="9" fill="#000"/>
<rect x="392" y="384" width="50" height="1" fill="#000"/>
<rect x="417" y="380" width="1" height="9" fill="#000"/>
<rect x="442" y="237" width="9" height="1" fill="#000"/>
<rect x="560" y="77" width="1" height="1" fill="#000"/>
<rect x="560" y="81" width="1" height="1" fill="#000"/>
<rect x="560" y="85" width="1" height="1" fill="#000"/>
<rect x="560" y="89" width="1" height="1" fill="#000"/>
<rect x="560" y="93" width="1" height="1" fill="#000"/>
<rect x="560" y="97" width="1" height="1" fill="#000"/>
<rect x="560" y="101" width="1" height="1" fill="#000"/>
<rect x="560" y="105" width="1" height="1" fill="#000"/>
<rect x="560" y="109" width="1" height="1" fill="#000"/>
<rect x="560" y="113" width="1" height="1" fill="#000"/>
<rect x="560" y="117" width="1" height="1" fill="#000"/>
<rect x="560" y="121" width="1" height="1" fill="#000"/>
<rect x="560" y="125" width="1" height="1" fill="#000"/>
<rect x="560" y="129" width="1" height="1" fill="#000"/>
<rect x="560" y="133" width="1" height="1" fill="#000"/>
<rect x="560" y="137" width="1" height="1" fill="#000"/>
<rect x="560" y="141" width="1" height="1" fill="#000"/>
<rect x="560" y="145" width="1" height="1" fill="#000"/>
<rect x="560" y="149" width="1" height="1" fill="#000"/>
<rect x="560" y="153" width="1" height="1" fill="#000"/>
<rect x="560" y="157" width="1" height="1" fill="#000"/>
<rect x="560" y="161" width="1" height="1" fill="#000"/>
<rect x="560" y="165" width="1" height="1" fill="#000"/>
<rect x="560" y="169" width="1" height="1" fill="#000"/>
<rect x="560" y="173" width="1" height="1" fill="#000"/>
<rect x="560" y="177" width="1" height="1" fill="#000"/>
<rect x="560" y="181" width="1" height="1" fill="#000"/>
<rect x="560" y="185" width="1" height="1" fill="#000"/>
<rect x="560" y="189" width="1" height="1" fill="#000"/>
<rect x="560" y="193" width="1" height="1" fill="#000"/>
<rect x="560" y="197" width="1" height="1" fill="#000"/>
<rect x="560" y="201" width="1" height="1" fill="#000"/>
<rect x="560" y="205" width="1" height="1" fill="#000"/>
<rect x="560" y="209" width="1" height="1" fill="#000"/>
<rect x="560" y="213" width="1" height="1" fill="#000"/>
<rect x="560" y="217" width="1" height="1" fill="#000"/>
<rect x="560" y="221" width="1" height="1" fill="#000"/>
<rect x="560" y="225" width="1" height="1" fill="#000"/>
<rect x="560" y="229" width="1" height="1" fill="#000"/>
<rect x="560" y="233" width="1" height="1" fill="#000"/>
<rect x="560" y="237" width="1" height="1" fill="#000"/>
<rect x="560" y="241" width="1" height="1" fill="#000"/>
<rect x="560" y="245" width="1" height="1" fill="#000"/>
<rect x="560" y="249" width="1" height="1" fill="#000"/>
<rect x="560" y="253" width="1" height="1" fill="#000"/>
<rect x="560" y="257" width="1" height="1" fill="#000"/>
<rect x="560" y="261" width="1" height="1" fill="#000"/>
<rect x="560" y="265" width="1" height="1" fill="#000"/>
<rect x="560" y="269" width="1" height="1" fill="#000"/>
<rect x="560" y="273" width="1" height="1" fill="#000"/>
<rect x="560" y="277" width="1" height="1" fill="#000"/>
<rect x="560" y="281" width="1" height="1" fill="#000"/>
<rect x="560" y="285" width="1" height="1" fill="#000"/>
<rect x="560" y="289" width="1" height="1" fill="#000"/>
<rect x="560" y="293" width="1" height="1" fill="#000"/>
<rect x="560" y="297" width="1" height="1" fill="#000"/>
<rect x="560" y="301" width="1" height="1" fill="#000"/>
<rect x="560" y="305" width="1" height="1" fill="#000"/>
<rect x="560" y="309" width="1" height="1" fill="#000"/>
<rect x="560" y="313" width="1" height="1" fill="#000"/>
<rect x="560" y="317" width="1" height="1" fill="#000"/>
<rect x="560" y="321" width="1" height="1" fill="#000"/>
<rect x="560" y="325" width="1" height="1" fill="#000"/>
<rect x="560" y="329" width="1" height="1" fill="#000"/>
<rect x="560" y="333" width="1" height="1" fill="#000"/>
<rect x="560" y="337" width="1" height="1" fill="#000"/>
<rect x="560" y="341" width="1" height="1" fill="#000"/>
<rect x="560" y="345" width="1" height="1" fill="#000"/>
<rect x="560" y="349" width="1" height="1" fill="#000"/>
<rect x="560" y="353" width="1" height="1" fill="#000"/>
<rect x="560" y="357" width="1" height="1" fill="#000"/>
<rect x="560" y="361" width="1" height="1" fill="#000"/>
<rect x="560" y="365" width="1" height="1" fill="#000"/>
<rect x="560" y="369" width="1" height="1" fill="#000"/>
<rect x="560" y="373" width="1" height="1" fill="#000"/>
<rect x="560" y="377" width="1" height="1" fill="#000"/>
<rect x="560" y="381" width="1" height="1" fill="#000"/>
<rect x="560" y="385" width="1" height="1" fill="#000"/>
<rect x="560" y="389" width="1" height="1" fill="#000"/>
<rect x="560" y="393" width="1" height="1" fill="#000"/>
<rect x="560" y="397" width="1" height="1" fill="#000"/>
<g shape-rendering="crispEdges" fill="none" stroke-width="1">
<clipPath id="c3"><rect x="532" y="70" width="84.5" height="330"/></clipPath>
<clipPath id="c4"><rect x="623" y="70" width="65" height="330"/></clipPath>
<g clip-path="url(#c3)">
<polyline points="561.5,89.5 562.5,118.5 562.9,148.0 562.9,177.5 562.9,207.0 562.9,236.5 564.0,266.0 574.5,295.5 597.9,325.0 591.9,354.5 571.9,384.5" fill="none" stroke="#FF0000" stroke-width="1"/>
<polyline points="611.5,89.0 611.5,103.5 612.5,118.5 615.8,148.5 640.0,177.5" fill="none" stroke="#0000FF" stroke-width="1"/>
<polyline points="586.5,384.5 620.0,354.5" fill="none" stroke="#0000FF" stroke-width="1"/>
</g>
<g clip-path="url(#c4)">
<polyline points="686.5,89.5 686.5,118.5 686.5,148.0 678.9,177.5 670.8,207.0 686.5,236.5 686.5,266.0 686.5,295.5 686.5,325.0 686.5,354.5 686.5,384.5" fill="none" stroke="#0000FF" stroke-width="1"/>
<polyline points="623.5,89.5 623.5,118.5 623.5,148.0 623.5,177.5 623.5,207.0 623.5,236.5 655.0,266.0 686.5,295.5 686.5,325.0 686.5,354.5 658.1,384.5" fill="none" stroke="#FF0000" stroke-width="1"/>
<polyline points="623.5,89.5 662.6,118.5 655.0,148.0 623.5,177.5 655.0,207.0 655.0,236.5 678.9,266.0 686.5,295.5 686.5,325.0 686.5,354.5 655.3,384.5" fill="none" stroke="#000000" stroke-width="1"/>
</g>
</g>
</svg>
</body></html>
